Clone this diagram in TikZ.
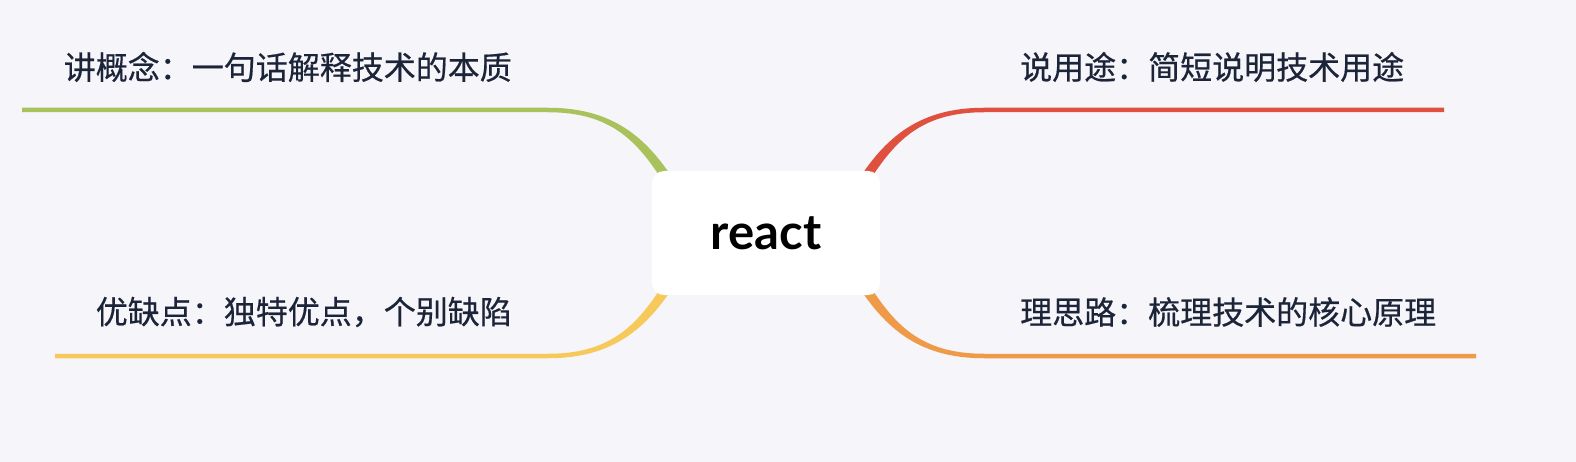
\documentclass[tikz,border=0pt]{standalone}
\usepackage{fontspec}
\newfontfamily\cjk{Noto Sans CJK SC}[FakeBold=0.5]
\newfontfamily\rootfont{Lato}
\definecolor{bg}{HTML}{F5F5FA}
\definecolor{ink}{HTML}{1B2438}
\definecolor{cgreen}{HTML}{A9C25B}
\definecolor{cred}{HTML}{E0503F}
\definecolor{cyellow}{HTML}{F6C95A}
\definecolor{corange}{HTML}{EE9A48}
% tapered mind-map branch in local coordinates (origin at the root centre)
\newcommand\mmbranch[2]{%
  \fill[#1] (85.7,-42.6) .. controls (115.7,-92.6) and (150,-125.25) .. (218,-125.25)
    -- (#2,-125.25) -- (#2,-120.75) -- (218,-120.75)
    .. controls (150,-120.75) and (124.3,-87.4) .. (94.3,-37.4) -- cycle;}
\begin{document}
\begin{tikzpicture}[x=1pt,y=-1pt,
  lbl/.style={inner sep=0pt, text=ink, font=\cjk\fontsize{32}{38}\selectfont},
  rootbox/.style={fill=white, rounded corners=12pt, minimum width=228pt,
    minimum height=124pt, inner sep=0pt, text=black,
    font=\rootfont\bfseries\fontsize{49}{56}\selectfont}]
\useasboundingbox[fill=bg] (0,0) rectangle (1576,462);
\coordinate (c) at (766,233);
\begin{scope}[shift={(c)}]
  \mmbranch{cred}{678}
\end{scope}
\begin{scope}[shift={(c)}, yscale=-1]
  \mmbranch{corange}{710}
\end{scope}
\begin{scope}[shift={(c)}, xscale=-1]
  \mmbranch{cgreen}{744}
\end{scope}
\begin{scope}[shift={(c)}, xscale=-1, yscale=-1]
  \mmbranch{cyellow}{711}
\end{scope}
\node[rootbox] (root) at (c) {react};
\node[lbl, anchor=east] (tl) at (512,67) {讲概念：一句话解释技术的本质};
\node[lbl, anchor=west] (tr) at (1020,67) {说用途：简短说明技术用途};
\node[lbl, anchor=east] (bl) at (512,312) {优缺点：独特优点，个别缺陷};
\node[lbl, anchor=west] (br) at (1020,312) {理思路：梳理技术的核心原理};
\end{tikzpicture}
\end{document}
